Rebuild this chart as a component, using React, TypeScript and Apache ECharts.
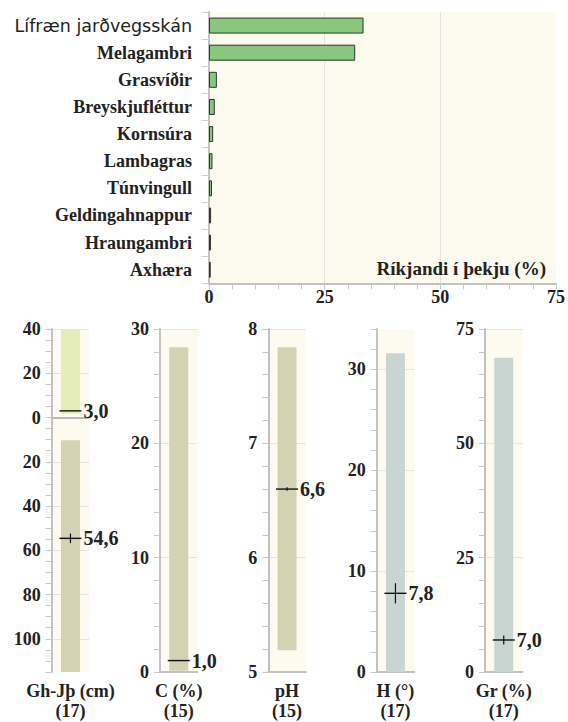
import React, { useEffect, useRef } from 'react';
import * as echarts from 'echarts';

// ---- Top chart: dominant species cover ----
const species = [
  'Lífræn jarðvegsskán',
  'Melagambri',
  'Grasvíðir',
  'Breyskjufléttur',
  'Kornsúra',
  'Lambagras',
  'Túnvingull',
  'Geldingahnappur',
  'Hraungambri',
  'Axhæra',
];
const cover = [33.4, 31.6, 1.7, 1.25, 0.9, 0.75, 0.65, 0.45, 0.42, 0.38];
const coverMin = 0;
const coverMax = 75;
const coverTickStep = 5;
const coverLabelStep = 25;
const coverAxisName = 'Ríkjandi í þekju (%)';

// ---- Bottom panels ----
const panelNames = ['Gh-Jþ (cm)', 'C (%)', 'pH', 'H (°)', 'Gr (%)'];
const panelCounts = [17, 15, 15, 17, 17];
const panelMin = [-115, 0, 5, 0, 0];
const panelMax = [40, 30, 8, 34, 75];
const panelTickStep = [5, 2, 0.2, 2, 5];
const panelLabelStep = [20, 10, 1, 10, 25];

// ranges [low, high] per panel (panel 1 has vegetation height above 0 and soil depth below 0)
const vegHeightRange = [1.7, 40];
const soilDepthRange = [10.3, 115];
const carbonRange = [0.1, 28.4];
const phRange = [5.19, 7.84];
const slopeRange = [0, 31.6];
const gravelRange = [0, 68.7];

// central values and their half error bars
const vegHeightValue = 3.0;
const soilDepthValue = 54.6;
const carbonValue = 1.0;
const phValue = 6.6;
const slopeValue = 7.8;
const gravelValue = 7.0;
const vegHeightErr = 0;
const soilDepthErr = 2.2;
const carbonErr = 0;
const phErr = 0.015;
const slopeErr = 1.0;
const gravelErr = 1.0;

const SERIF = 'Liberation Serif';
const SANS = 'DejaVu Sans';
const W = 'bold';
const TEXT = '#222';
const PLOT_BG = '#fdfaf0';
const GRID_LINE = '#e4e4e0';
const AXIS_LINE = '#c2c2c2';
const OLIVE = '#d3d3b3';
const LIGHT_GREEN = '#e5edb9';
const BLUE_GRAY = '#c9d5d1';

const isMult = (v: number, s: number) => Math.abs(v / s - Math.round(v / s)) < 1e-6;

function gridColors(min: number, step: number, labelStep: number) {
  const ratio = Math.round(labelStep / step);
  const first = Math.ceil(min / labelStep - 1e-9) * labelStep;
  const i0 = Math.round((first - min) / step) % ratio;
  const arr: string[] = [];
  for (let i = 0; i < ratio; i++) arr.push(i === i0 ? GRID_LINE : 'rgba(0,0,0,0)');
  return arr;
}

const fmt = (v: number) => v.toFixed(1).replace('.', ',');

export default function App() {
  const ref = useRef<HTMLDivElement>(null);

  useEffect(() => {
    if (!ref.current) return;
    const chart = echarts.init(ref.current, undefined, { renderer: 'svg' });

    const panelLefts = [51.7, 160, 268.3, 376.7, 485];
    const panelWidth = 37.5;

    const grids: any[] = [
      { left: 209, top: 12, right: 11.6, height: 271.3, show: true, backgroundColor: PLOT_BG, borderWidth: 0 },
    ];
    panelLefts.forEach((l) =>
      grids.push({ left: l, top: 329, width: panelWidth, height: 346, show: true, backgroundColor: PLOT_BG, borderWidth: 0 })
    );

    const xAxes: any[] = [
      {
        type: 'value',
        gridIndex: 0,
        min: coverMin,
        max: coverMax,
        interval: coverTickStep,
        axisLine: { show: true, lineStyle: { color: AXIS_LINE, width: 2 } },
        axisTick: { show: true, length: 6, lineStyle: { color: '#c8c8c8' } },
        axisLabel: {
          formatter: (v: number) => (isMult(v, coverLabelStep) ? String(v) : ''),
          fontFamily: SERIF,
          fontWeight: W,
          fontSize: 18,
          color: TEXT,
          margin: 5,
        },
        splitLine: {
          show: true,
          showMaxLine: false,
          lineStyle: { color: gridColors(coverMin, coverTickStep, coverLabelStep), width: 1 },
        },
        name: coverAxisName,
        nameLocation: 'end',
        nameGap: -10,
        nameTextStyle: {
          fontFamily: SERIF,
          fontWeight: W,
          fontSize: 19,
          color: TEXT,
          align: 'right',
          verticalAlign: 'bottom',
          padding: [0, 0, 5, 0],
        },
      },
    ];
    const yAxes: any[] = [
      {
        type: 'category',
        gridIndex: 0,
        data: species,
        inverse: true,
        axisLine: { show: true, lineStyle: { color: AXIS_LINE, width: 2 } },
        axisTick: { show: true, length: 7, lineStyle: { color: '#cfcfcf' } },
        axisLabel: {
          margin: 17,
          fontFamily: SERIF,
          fontWeight: W,
          fontSize: 18,
          color: TEXT,
          formatter: (v: string, i: number) => (i === 0 ? `{s|${v}}` : v),
          rich: { s: { fontFamily: SANS, fontWeight: 'normal', fontSize: 17.5, color: TEXT } },
        },
        splitLine: { show: false },
      },
    ];

    panelNames.forEach((name, i) => {
      xAxes.push({
        type: 'category',
        gridIndex: i + 1,
        data: [name],
        axisLine: { show: i !== 0, onZero: false, lineStyle: { color: AXIS_LINE, width: 2 } },
        axisTick: { show: false },
        axisLabel: { show: false },
        splitLine: { show: false },
        name: `${name}\n(${panelCounts[i]})`,
        nameLocation: 'middle',
        nameGap: 9,
        nameTextStyle: {
          fontFamily: SERIF,
          fontWeight: W,
          fontSize: 18,
          color: TEXT,
          lineHeight: 20,
          verticalAlign: 'top',
        },
      });
      yAxes.push({
        type: 'value',
        gridIndex: i + 1,
        min: panelMin[i],
        max: panelMax[i],
        interval: panelTickStep[i],
        axisLine: { show: true, lineStyle: { color: AXIS_LINE, width: 2 } },
        axisTick: { show: true, length: 6, lineStyle: { color: '#c8c8c8' } },
        axisLabel: {
          formatter: (v: number) => (isMult(v, panelLabelStep[i]) ? String(Math.round(Math.abs(v))) : ''),
          fontFamily: SERIF,
          fontWeight: W,
          fontSize: 18,
          color: TEXT,
          margin: 11,
        },
        splitLine: {
          show: true,
          lineStyle: { color: gridColors(panelMin[i], panelTickStep[i], panelLabelStep[i]), width: 1 },
        },
      });
    });

    const rangeData: any[][] = [
      [
        { value: [0, vegHeightRange[0], vegHeightRange[1]], itemStyle: { color: LIGHT_GREEN } },
        { value: [0, -soilDepthRange[1], -soilDepthRange[0]], itemStyle: { color: OLIVE } },
      ],
      [{ value: [0, carbonRange[0], carbonRange[1]], itemStyle: { color: OLIVE } }],
      [{ value: [0, phRange[0], phRange[1]], itemStyle: { color: OLIVE } }],
      [{ value: [0, slopeRange[0], slopeRange[1]], itemStyle: { color: BLUE_GRAY } }],
      [{ value: [0, gravelRange[0], gravelRange[1]], itemStyle: { color: BLUE_GRAY } }],
    ];
    const markerData: number[][][] = [
      [
        [0, vegHeightValue, vegHeightErr, vegHeightValue],
        [0, -soilDepthValue, soilDepthErr, soilDepthValue],
      ],
      [[0, carbonValue, carbonErr, carbonValue]],
      [[0, phValue, phErr, phValue]],
      [[0, slopeValue, slopeErr, slopeValue]],
      [[0, gravelValue, gravelErr, gravelValue]],
    ];

    const series: any[] = [
      {
        type: 'bar',
        xAxisIndex: 0,
        yAxisIndex: 0,
        data: cover,
        barWidth: 16,
        itemStyle: { color: '#88c87c', borderColor: '#333', borderWidth: 1 },
      },
    ];

    panelNames.forEach((_, i) => {
      series.push({
        type: 'custom',
        xAxisIndex: i + 1,
        yAxisIndex: i + 1,
        clip: true,
        data: rangeData[i],
        renderItem: (params: any, api: any) => {
          const x = api.value(0);
          const lo = api.value(1);
          const hi = api.value(2);
          const pTop = api.coord([x, hi]);
          const pBot = api.coord([x, lo]);
          const w = 19;
          return {
            type: 'rect',
            shape: { x: pTop[0] - w / 2, y: pTop[1], width: w, height: pBot[1] - pTop[1] },
            style: { fill: api.visual('color') },
          };
        },
      });
      if (i === 0) {
        series.push({
          type: 'line',
          xAxisIndex: 1,
          yAxisIndex: 1,
          data: [],
          markLine: {
            silent: true,
            symbol: 'none',
            label: { show: false },
            lineStyle: { color: '#b8b8b8', width: 2, type: 'solid' },
            data: [{ yAxis: 0 }],
          },
        });
      }
      series.push({
        type: 'custom',
        xAxisIndex: i + 1,
        yAxisIndex: i + 1,
        z: 5,
        data: markerData[i],
        renderItem: (params: any, api: any) => {
          const x = api.value(0);
          const v = api.value(1);
          const err = api.value(2);
          const disp = api.value(3);
          const p = api.coord([x, v]);
          const children: any[] = [
            {
              type: 'line',
              shape: { x1: p[0] - 11, y1: p[1], x2: p[0] + 11, y2: p[1] },
              style: { stroke: '#111', lineWidth: 1.4 },
            },
            {
              type: 'text',
              x: p[0] + 13,
              y: p[1],
              style: {
                text: fmt(disp),
                fontFamily: SERIF,
                fontWeight: W,
                fontSize: 20,
                fill: TEXT,
                verticalAlign: 'middle',
                align: 'left',
              },
            },
          ];
          if (err > 0) {
            const a = api.coord([x, v + err]);
            const b = api.coord([x, v - err]);
            children.push({
              type: 'line',
              shape: { x1: p[0], y1: a[1], x2: p[0], y2: b[1] },
              style: { stroke: '#111', lineWidth: 1.2 },
            });
          }
          return { type: 'group', children };
        },
      });
    });

    chart.setOption({
      animation: false,
      grid: grids,
      xAxis: xAxes,
      yAxis: yAxes,
      series,
    });

    return () => chart.dispose();
  }, []);

  return <div ref={ref} style={{ width: 568, height: 722, position: 'absolute', left: 0, top: 0 }} />;
}
